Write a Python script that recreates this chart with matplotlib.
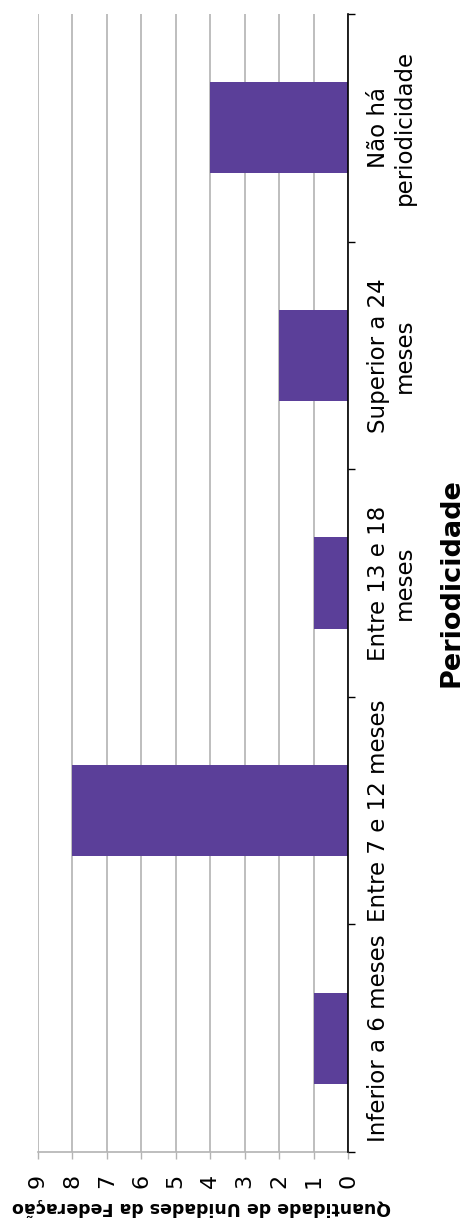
import matplotlib
matplotlib.use("Agg")
import matplotlib.pyplot as plt
import numpy as np

categorias = [
    "Inferior a 6 meses",
    "Entre 7 e 12 meses",
    "Entre 13 e 18\nmeses",
    "Superior a 24\nmeses",
    "Não há\nperiodicidade",
]
quantidades = [1, 8, 1, 2, 4]
valores_eixo = list(range(0, 10))

cor_barra = "#5B3F99"
cor_grade = "#B3B3B3"

plt.rcParams["font.family"] = ["DejaVu Sans"]

fig = plt.figure(figsize=(4.66, 12.25), dpi=100)
ax = fig.add_axes([38 / 466, 73 / 1225, (348 - 38) / 466, (1152 - 14) / 1225])

pos = np.arange(len(categorias))
ax.barh(pos, quantidades, height=0.4, color=cor_barra, zorder=3)

ax.set_xlim(9, 0)
ax.set_ylim(-0.5, len(categorias) - 0.5)

# value axis (horizontal, reversed)
ax.set_xticks(valores_eixo)
ax.set_xticklabels([str(v) for v in valores_eixo], rotation=90, fontsize=16)
ax.tick_params(axis="x", direction="out", length=5, width=1, color=cor_grade, pad=11)
ax.xaxis.grid(True, color=cor_grade, linewidth=1.2, zorder=0)
ax.set_xlabel("Quantidade de Unidades da Federação", fontsize=12.5,
              fontweight="bold", rotation=180, va="center", ha="center")
ax.xaxis.set_label_coords(0.529, -0.0485)

# category axis on the right, ticks between categories
ax.yaxis.tick_right()
ax.yaxis.set_label_position("right")
ax.set_yticks(np.arange(-0.5, len(categorias)), minor=False)
ax.set_yticklabels([], minor=False)
ax.set_yticks(pos, minor=True)
ax.set_yticklabels(categorias, minor=True, rotation=90, fontsize=16.5,
                   va="center", ha="left", multialignment="center",
                   linespacing=1.15)
ax.tick_params(axis="y", which="major", direction="out", length=5, width=1,
               color="black", left=False, right=True)
ax.tick_params(axis="y", which="minor", length=0, pad=14, left=False, right=True)
ax.set_ylabel("Periodicidade", fontsize=19.5, fontweight="bold", rotation=90,
              labelpad=16)

for side in ["top", "left"]:
    ax.spines[side].set_visible(False)
ax.spines["bottom"].set_color(cor_grade)
ax.spines["bottom"].set_linewidth(1.2)
ax.spines["right"].set_color("black")
ax.spines["right"].set_linewidth(1.2)
ax.spines["right"].set_zorder(4)

fig.savefig("out.png", dpi=100)
